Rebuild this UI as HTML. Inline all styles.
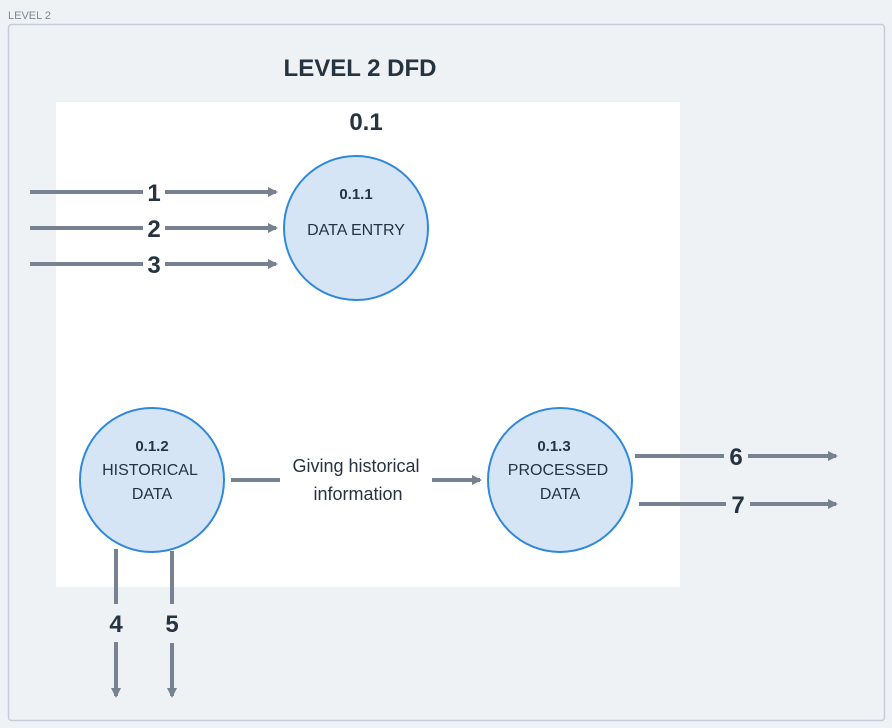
<!DOCTYPE html>
<html><head><style>
html,body{margin:0;padding:0;background:#eff2f5;width:892px;height:728px;overflow:hidden}
text{font-family:"Liberation Sans",sans-serif}
</style></head><body>
<svg width="892" height="728" viewBox="0 0 892 728" xmlns="http://www.w3.org/2000/svg">
<defs><marker id="a" markerWidth="10" markerHeight="10" refX="8" refY="5" orient="auto" markerUnits="userSpaceOnUse"><path d="M0,0 L10,5 L0,10 z" fill="#76828f"/></marker></defs>
<text x="8" y="19" font-size="11" fill="#7d8894">LEVEL 2</text>
<rect x="8.5" y="24.5" width="876" height="696" rx="3" fill="#eff2f5" stroke="#c5ced8" stroke-width="1.5"/>
<rect x="56" y="102" width="624" height="485" fill="#fff"/>
<text x="360" y="76" font-size="24" font-weight="bold" fill="#263340" text-anchor="middle">LEVEL 2 DFD</text>
<text x="366" y="130" font-size="24" font-weight="bold" fill="#263340" text-anchor="middle">0.1</text>
<g stroke="#76828f" stroke-width="4" fill="none">
<line x1="30" y1="192" x2="143" y2="192"/><line x1="165" y1="192" x2="276" y2="192" marker-end="url(#a)"/>
<line x1="30" y1="228" x2="143" y2="228"/><line x1="165" y1="228" x2="276" y2="228" marker-end="url(#a)"/>
<line x1="30" y1="264" x2="143" y2="264"/><line x1="165" y1="264" x2="276" y2="264" marker-end="url(#a)"/>
<line x1="231" y1="480" x2="280" y2="480"/><line x1="432" y1="480" x2="480" y2="480" marker-end="url(#a)"/>
<line x1="116" y1="549" x2="116" y2="604"/><line x1="116" y1="642" x2="116" y2="696" marker-end="url(#a)"/>
<line x1="172" y1="551" x2="172" y2="604"/><line x1="172" y1="643" x2="172" y2="696" marker-end="url(#a)"/>
<line x1="635" y1="456" x2="724" y2="456"/><line x1="748" y1="456" x2="836" y2="456" marker-end="url(#a)"/>
<line x1="639" y1="504" x2="726" y2="504"/><line x1="750" y1="504" x2="836" y2="504" marker-end="url(#a)"/>
</g>
<g font-size="24" font-weight="bold" fill="#263340" text-anchor="middle">
<text x="154" y="201">1</text><text x="154" y="237">2</text><text x="154" y="273">3</text>
<text x="116" y="632">4</text><text x="172" y="632">5</text>
<text x="736" y="465">6</text><text x="738" y="513">7</text>
</g>
<g fill="#d5e5f5" stroke="#2f88dc" stroke-width="2">
<circle cx="356" cy="228" r="72"/><circle cx="152" cy="480" r="72"/><circle cx="560" cy="480" r="72"/>
</g>
<g fill="#263340" text-anchor="middle">
<text x="356" y="199" font-size="15" font-weight="bold">0.1.1</text>
<text x="356" y="235" font-size="16">DATA ENTRY</text>
<text x="152" y="451" font-size="15" font-weight="bold">0.1.2</text>
<text x="150" y="475" font-size="16">HISTORICAL</text>
<text x="152" y="499" font-size="16">DATA</text>
<text x="554" y="451" font-size="15" font-weight="bold">0.1.3</text>
<text x="558" y="475" font-size="16">PROCESSED</text>
<text x="560" y="499" font-size="16">DATA</text>
<text x="356" y="472" font-size="18">Giving historical</text>
<text x="358" y="500" font-size="18">information</text>
</g>
</svg>
</body></html>
